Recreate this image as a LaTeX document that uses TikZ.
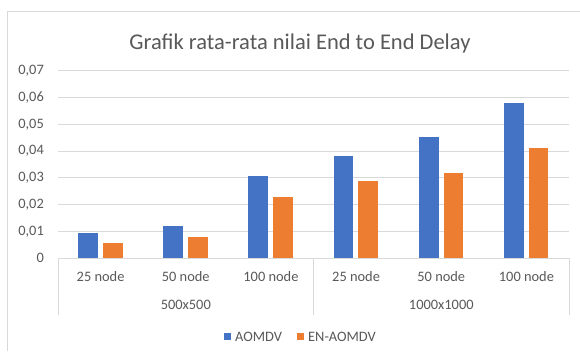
\documentclass[tikz,border=0pt]{standalone}
\usepackage{fontspec}
\setmainfont{Carlito}
\definecolor{blueb}{HTML}{4472C4}
\definecolor{orangeb}{HTML}{ED7D31}
\definecolor{gridc}{HTML}{D9D9D9}
\definecolor{txt}{HTML}{595959}
\begin{document}
\begin{tikzpicture}[x=1pt,y=-1pt,
  lbl/.style={text=txt,font=\fontsize{14.4}{16}\selectfont,inner sep=0pt},
  ttl/.style={text=txt,font=\fontsize{22.5}{26}\selectfont,inner sep=0pt},
  gridln/.style={draw=gridc,line width=1pt},
  barA/.style={fill=blueb},
  barB/.style={fill=orangeb},
  legbox/.style={minimum size=7pt,inner sep=0pt}]
\useasboundingbox (0,0) rectangle (580,351);
\fill[white] (0,0) rectangle (580,351);
\draw[gridc,line width=1pt] (7.5,351) -- (7.5,11.5) -- (580,11.5);
\node[ttl,anchor=base] (title) at (300,49.5) {Grafik rata-rata nilai End to End Delay};
% gridlines and y labels
\foreach \k/\t in {1/{0,01},2/{0,02},3/{0,03},4/{0,04},5/{0,05},6/{0,06},7/{0,07}} {
  \draw[gridln] (58,258-26.75*\k) -- (569,258-26.75*\k);
  \node[lbl,anchor=east] (y\k) at (44,258-26.75*\k) {\t};
}
\node[lbl,anchor=east] (y0) at (44,258) {0};
% axis
\draw[gridln] (58,258) -- (569,258);
\draw[gridln] (58,258) -- (58,315);
\draw[gridln] (313.5,258) -- (313.5,315);
\draw[gridln] (569,258) -- (569,315);
% bars
\foreach \i/\a/\b/\n in {0/0.0095/0.0055/25 node,1/0.0118/0.0079/50 node,2/0.0307/0.0229/100 node,3/0.0381/0.0287/25 node,4/0.0452/0.0318/50 node,5/0.0581/0.0410/100 node} {
  \pgfmathsetmacro{\c}{58+85.17*(\i+0.5)}
  \fill[barA] (\c-22.5,258) rectangle (\c-2.7,258-2675*\a);
  \fill[barB] (\c+2.3,258) rectangle (\c+22,258-2675*\b);
  \node[lbl] (cat\i) at (\c,277) {\n};
}
\node[lbl] (g1) at (185.8,305) {500x500};
\node[lbl] (g2) at (441.3,305) {1000x1000};
% legend
\node[legbox,fill=blueb] (lA) at (227.7,336) {};
\node[lbl,anchor=west] (lAt) at (235,336.5) {AOMDV};
\node[legbox,fill=orangeb] (lB) at (300,336) {};
\node[lbl,anchor=west] (lBt) at (308,336.5) {EN-AOMDV};
\end{tikzpicture}
\end{document}
